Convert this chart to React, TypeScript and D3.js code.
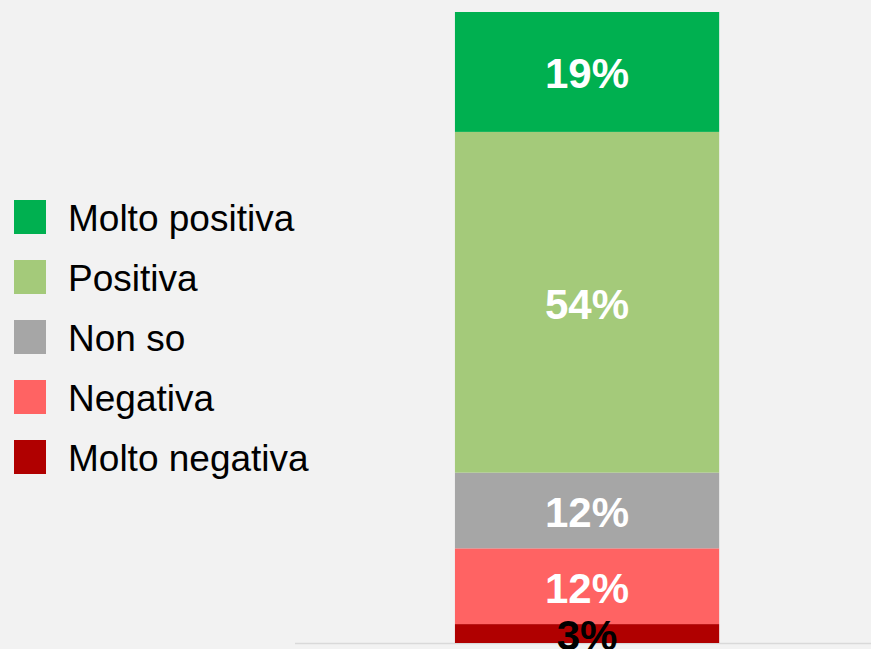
import React, { useEffect, useRef } from 'react';
import * as d3 from 'd3';

// legend order, top to bottom
const categories = ['Molto positiva', 'Positiva', 'Non so', 'Negativa', 'Molto negativa'];
const values = [19, 54, 12, 12, 3];
const colors = ['#00b050', '#a4ca7a', '#a6a6a6', '#ff6363', '#b00000'];
const labelColors = ['#ffffff', '#ffffff', '#ffffff', '#ffffff', '#000000'];
const barName = ['Totale'];

const W = 871;
const H = 649;

const App = () => {
  const ref = useRef<SVGSVGElement>(null);

  useEffect(() => {
    const svg = d3.select(ref.current);
    svg.selectAll('*').remove();

    svg.append('rect').attr('width', W).attr('height', H).attr('fill', '#f2f2f2');

    const x = d3.scaleBand().domain(barName).range([295, 871]).paddingInner(0).paddingOuter(0.59).align(0.513);
    const y = d3.scaleLinear().domain([0, 100]).range([643, 12]);

    // stack from bottom (Molto negativa) to top (Molto positiva)
    const keys = [...categories].reverse();
    const row: any = { name: barName[0] };
    categories.forEach((c, i) => (row[c] = values[i]));
    const stacked = d3.stack().keys(keys)([row]);

    const colorOf = d3.scaleOrdinal<string, string>().domain(categories).range(colors);
    const labelOf = d3.scaleOrdinal<string, string>().domain(categories).range(labelColors);

    // axis baseline
    svg.append('line')
      .attr('x1', 295).attr('x2', W)
      .attr('y1', y(0) + 0.5).attr('y2', y(0) + 0.5)
      .attr('stroke', '#d9d9d9').attr('stroke-width', 1.5);

    const g = svg.append('g');
    g.selectAll('rect.seg')
      .data(stacked)
      .enter().append('rect')
      .attr('class', 'seg')
      .attr('x', x(barName[0])!)
      .attr('width', x.bandwidth())
      .attr('y', d => y(d[0][1]))
      .attr('height', d => y(d[0][0]) - y(d[0][1]))
      .attr('fill', d => colorOf(d.key));

    g.selectAll('text.lbl')
      .data(stacked)
      .enter().append('text')
      .attr('class', 'lbl')
      .attr('x', x(barName[0])! + x.bandwidth() / 2)
      .attr('y', d => (y(d[0][0]) + y(d[0][1])) / 2 + 2)
      .attr('text-anchor', 'middle')
      .attr('dominant-baseline', 'central')
      .attr('font-family', 'Liberation Sans, Arial, sans-serif')
      .attr('font-weight', 'bold')
      .attr('font-size', 42)
      .attr('fill', d => labelOf(d.key))
      .text(d => (d[0][1] - d[0][0]) + '%');

    // legend
    const leg = d3.scaleBand().domain(categories).range([187, 487]);
    const lg = svg.append('g');
    const items = lg.selectAll('g')
      .data(categories)
      .enter().append('g')
      .attr('transform', d => `translate(0,${leg(d)! + leg.bandwidth() / 2})`);
    items.append('rect')
      .attr('x', 14).attr('y', -17)
      .attr('width', 32).attr('height', 34)
      .attr('fill', d => colorOf(d));
    items.append('text')
      .attr('x', 68).attr('y', 1)
      .attr('dominant-baseline', 'central')
      .attr('font-family', 'Liberation Sans, Arial, sans-serif')
      .attr('font-size', 37)
      .attr('fill', '#000')
      .text(d => d);
  }, []);

  return (
    <div style={{ position: 'fixed', left: 0, top: 0 }}>
      <svg ref={ref} width={W} height={H} style={{ display: 'block' }}></svg>
    </div>
  );
};

export default App;
